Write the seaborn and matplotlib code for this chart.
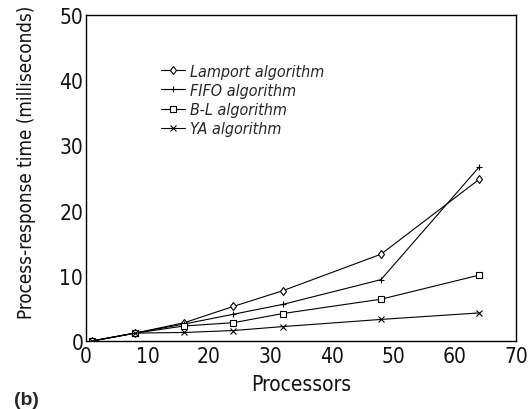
import pandas as pd
import matplotlib
matplotlib.use('Agg')
import matplotlib.pyplot as plt
import seaborn as sns

# data
processors = [1, 8, 16, 24, 32, 48, 64]
lamport = [0, 1.2, 2.8, 5.3, 7.7, 13.3, 24.8]
fifo = [0, 1.2, 2.6, 4.1, 5.6, 9.4, 26.7]
bl = [0, 1.2, 2.3, 2.8, 4.2, 6.4, 10.1]
ya = [0, 1.2, 1.3, 1.6, 2.2, 3.3, 4.3]

series_names = ['Lamport algorithm', 'FIFO algorithm', 'B-L algorithm', 'YA algorithm']
series_values = [lamport, fifo, bl, ya]
series_markers = ['d', '+', 's', 'x']

x_ticks = [0, 10, 20, 30, 40, 50, 60, 70]
y_ticks = [0, 10, 20, 30, 40, 50]

sns.set_style('white')
plt.rcParams['font.family'] = ['DejaVu Sans']
plt.rcParams['font.stretch'] = 'condensed'

fig, ax = plt.subplots(figsize=(5.31, 4.10), dpi=100)
fig.subplots_adjust(left=0.162, right=0.972, top=0.961, bottom=0.166)

for name, vals, mk in zip(series_names, series_values, series_markers):
    df = pd.DataFrame({'Processors': processors, 'time': vals})
    sns.lineplot(data=df, x='Processors', y='time', ax=ax, color='black',
                 marker=mk, markersize=4.5, markerfacecolor='white',
                 markeredgecolor='black', markeredgewidth=0.8,
                 linewidth=0.8, label=name)

ax.set_xlim(0, 70)
ax.set_ylim(0, 50)
ax.set_xticks(x_ticks)
ax.set_yticks(y_ticks)
ax.tick_params(direction='in', length=6, width=0.9, labelsize=15, pad=2,
               colors='#111111')
ax.tick_params(axis='x', pad=4)

for s in ax.spines.values():
    s.set_color('black')
    s.set_linewidth(1.0)

ax.set_xlabel('Processors', fontsize=15, color='#111111')
ax.set_ylabel('Process-response time (milliseconds)', fontsize=13.5, color='#111111')
ax.xaxis.set_label_coords(0.5, -0.1)
ax.yaxis.set_label_coords(-0.116, 0.552)

# legend without frame, italic text
leg = ax.legend(loc='upper left', bbox_to_anchor=(0.175, 0.85), frameon=False,
                prop={'style': 'italic', 'size': 11.5, 'stretch': 'condensed'},
                handlelength=1.5, handletextpad=0.3, labelspacing=0.26,
                borderpad=0, borderaxespad=0)

fig.text(0.027, 1 - 401 / 410, '(b)', fontsize=14, fontweight='bold',
         family=['Liberation Sans', 'DejaVu Sans'], va='center', ha='left')

fig.savefig('out.png', dpi=100)
